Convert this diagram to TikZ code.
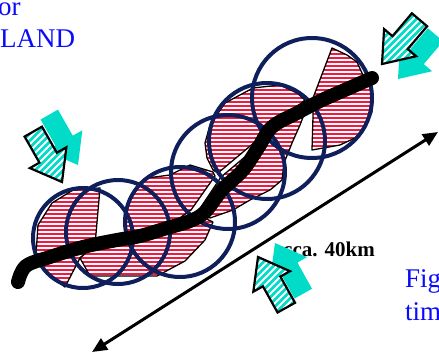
\documentclass[tikz,border=0pt]{standalone}
\usepackage{fontspec}
\setmainfont{Liberation Serif}
\usetikzlibrary{arrows.meta}
\definecolor{ringnavy}{HTML}{0E1F5B}
\definecolor{slipred}{HTML}{F2183F}
\definecolor{flowcyan}{HTML}{00DCC8}
\definecolor{textblue}{HTML}{0B0BFA}

% outline of a flow arrow, tip at the origin, pointing along +x
\newcommand{\arrowoutline}{(0,0) -- (-28,21) -- (-28,10) -- (-58,10) -- (-58,-10) -- (-28,-10) -- (-28,-21) -- cycle}

% red/white striped patch with black edge
\newcommand{\slippatch}[1]{%
  \begin{scope}
    \clip #1;
    \foreach \yy in {30,34,...,310} \draw[slipred,line width=2.7pt] (0,\yy) -- (440,\yy);
  \end{scope}
  \draw[line width=1.3pt,line join=round] #1;}

% flow arrow: tip x, tip y, angle, shadow dx, shadow dy
\newcommand{\windarrow}[5]{%
  \fill[flowcyan,shift={(#1+#4,#2+#5)},rotate=#3] \arrowoutline;
  \begin{scope}[shift={(#1,#2)},rotate=#3]
    \fill[flowcyan] \arrowoutline;
    \begin{scope}
      \clip \arrowoutline;
      \foreach \k in {-16,...,16} \draw[white,line width=2pt,rotate={-(#3)}] (\k*7-90,90) -- (\k*7+90,-90);
    \end{scope}
    \draw[line width=2.2pt] \arrowoutline;
  \end{scope}}

\begin{document}
\begin{tikzpicture}[x=1pt,y=-1pt,
  ring/.style={draw=ringnavy,line width=4pt},
  faultline/.style={line width=14pt,line cap=round,line join=round},
  spanline/.style={<->,>={Triangle[length=15pt,width=13pt]},line width=3pt},
  bluetext/.style={textblue,font=\fontsize{27}{32}\selectfont,anchor=base west,inner sep=0pt}]
  \useasboundingbox (0,0) rectangle (439,354);
  % slipped halves
  \slippatch{(80,258) -- (95,245) -- (100,188) -- (73,190) -- (52,203) -- (38,225) -- (36,255) -- (45,272) -- (65,287) -- cycle}
  \slippatch{(80,258) -- (90,276) -- (157,276) -- (185,261) -- (205,240) -- (213,222) -- (200,216) -- (150,236) -- (95,245) -- cycle}
  \slippatch{(125,238) -- (125,222) -- (128,203) -- (137,189) -- (147,178) -- (170,175) -- (190,165) -- (213,172) -- (215,176) -- (191,210) -- (160,232) -- cycle}
  \slippatch{(305,100) -- (297,93) -- (280,85) -- (253,88) -- (225,103) -- (210,125) -- (205,143) -- (207,158) -- (213,170) -- (218,173) -- cycle}
  \slippatch{(308,104) -- (221,177) -- (199,210) -- (210,218) -- (233,210) -- (250,200) -- (270,190) -- (282,180) -- (284,163) -- (292,143) -- (300,125) -- (305,112) -- cycle}
  \slippatch{(332,48) -- (347,55) -- (357,62) -- (362,73) -- (372,92) -- (372,112) -- (365,127) -- (355,138) -- (340,145) -- (312,150) -- (313,117) -- (313,98) -- cycle}
  % rupture rings
  \foreach \cx/\cy/\r in {83/238/50,118/232/52,180/222/55,228/172/57,267/141/58,312/98/60}
    \draw[ring] (\cx,\cy) circle[radius=\r];
  % fault trace
  \draw[faultline] plot[smooth,tension=0.6] coordinates {(18,282) (26,266) (50,257) (83,247) (117,240) (140,236) (167,228) (190,221) (205,212) (222,190) (243,170) (258,148) (272,127) (297,113) (320,101) (347,89) (372,78)};
  % labels
  \node[bluetext] (ortxt) at (-2,15) {or};
  \node[bluetext] (landtxt) at (0,47) {LAND};
  \node[bluetext] (figtxt) at (405,287) {Fig};
  \node[bluetext] (timtxt) at (405,320) {tim};
  \coordinate (spanlo) at (92,352);
  \coordinate (spanhi) at (438,132);
  \draw[spanline] (spanlo) -- (spanhi);
  \node[font=\bfseries\fontsize{21}{24}\selectfont,anchor=base west,inner sep=0pt] (spanlbl) at (283,256) {cca. 40km};
  % flow arrows
  \windarrow{382}{64}{-130.3}{16}{15}
  \windarrow{62}{182}{-60.3}{16}{-17}
  \windarrow{258}{257}{119.2}{17}{-14}
\end{tikzpicture}
\end{document}
